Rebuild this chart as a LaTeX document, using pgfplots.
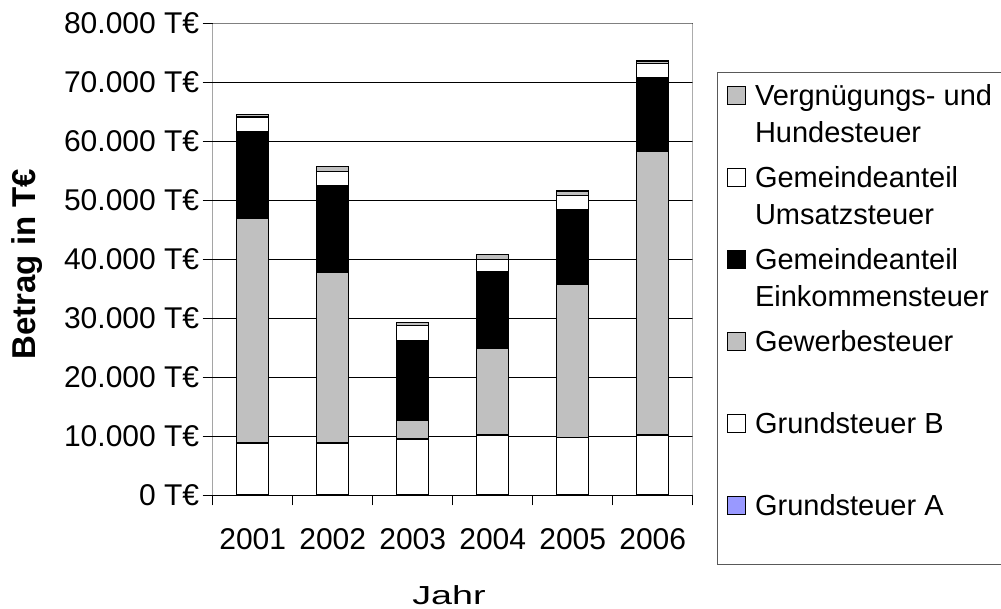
\documentclass[border=0pt]{standalone}
\usepackage{fontspec}
\setmainfont{Liberation Sans}
\usepackage{graphicx}
\usepackage{pgfplots}
\pgfplotsset{compat=1.18}
\definecolor{silver}{RGB}{192,192,192}
\definecolor{gablue}{RGB}{153,153,255}
\newcommand{\lf}{\fontsize{29}{36.7}\selectfont}
\pgfplotsset{
  legsq/.style n args={2}{legend image code/.code={%
    \draw[##1,line width=1.2pt] (0pt,1pt) rectangle (18pt,19pt);
    \node[anchor=base west, inner sep=0pt, draw=none, fill=none, text=black, font=\lf] at (27pt,0pt) {#1};
    \node[anchor=base west, inner sep=0pt, draw=none, fill=none, text=black, font=\lf] at (27pt,-36.7pt) {#2};
    \path[draw=none,fill=none] (-0.6pt,-48.7pt) rectangle (262pt,33.3pt);}},
  mybar/.style={draw=black, line width=1.5pt}
}
\begin{document}
\begin{tikzpicture}
\path[use as bounding box] (0,0) rectangle (1001pt,608pt);
\begin{axis}[
  at={(212.7pt,112.7pt)}, anchor=south west,
  width=480pt, height=472pt, scale only axis,
  xmin=-0.5, xmax=5.5, ymin=0, ymax=80000,
  ybar stacked, bar width=32pt,
  xtick={-0.5,0.5,1.5,2.5,3.5,4.5,5.5},
  xticklabels={2001,2002,2003,2004,2005,2006},
  x tick label as interval,
  ytick={0,10000,20000,30000,40000,50000,60000,70000,80000},
  yticklabels={0 T€,10.000 T€,20.000 T€,30.000 T€,40.000 T€,50.000 T€,60.000 T€,70.000 T€,80.000 T€},
  scaled y ticks=false,
  xtick pos=bottom, ytick pos=left, tick align=outside,
  major tick length=10pt,
  tick style={black, line width=1.2pt},
  axis line style={draw=none},
  ymajorgrids, major grid style={black, line width=1pt},
  tick label style={font=\fontsize{30}{34}\selectfont},
  xticklabel style={anchor=north, yshift=-19.4pt},
  xlabel={\scalebox{1.3}[0.9]{Jahr}},
  ylabel={Betrag in T€},
  every axis x label/.style={at={(axis description cs:0.4923,-0.2314)}, anchor=base, inner sep=0pt, font=\fontsize{29}{34}\selectfont},
  every axis y label/.style={at={(axis description cs:-0.369,0.49)}, rotate=90, anchor=base, inner sep=0pt, font=\fontsize{33}{38}\selectfont\bfseries},
  legend style={at={(axis description cs:1.05,0.8975)}, anchor=north west,
    draw=black!65, line width=1.2pt, inner xsep=9.4pt, inner ysep=0pt,
    row sep=0pt, column sep=0pt, nodes={inner sep=0pt}},
  legend cell align=left,
  reverse legend,
]
\addplot[fill=gablue, mybar, legsq={Grundsteuer A}{}] coordinates {(0,150) (1,150) (2,150) (3,150) (4,150) (5,150)};
\addlegendentry{\mbox{}}
\addplot[fill=white, mybar, legsq={Grundsteuer B}{}] coordinates {(0,8680) (1,8680) (2,9360) (3,10040) (4,9630) (5,10040)};
\addlegendentry{\mbox{}}
\addplot[fill=silver, mybar, legsq={Gewerbesteuer}{}] coordinates {(0,38200) (1,29030) (2,3220) (3,14770) (4,26040) (5,48040)};
\addlegendentry{\mbox{}}
\addplot[fill=black, mybar, legsq={Gemeindeanteil}{Einkommensteuer}] coordinates {(0,14530) (1,14530) (2,13470) (3,12900) (4,12500) (5,12500)};
\addlegendentry{\mbox{}}
\addplot[fill=white, mybar, legsq={Gemeindeanteil}{Umsatzsteuer}] coordinates {(0,2550) (1,2500) (2,2600) (3,2090) (4,2490) (5,2490)};
\addlegendentry{\mbox{}}
\addplot[fill=silver, mybar, legsq={Vergnügungs- und}{Hundesteuer}] coordinates {(0,460) (1,800) (2,450) (3,850) (4,800) (5,400)};
\addlegendentry{\mbox{}}
\draw[black!50, line width=1.5pt] (rel axis cs:0,1) -- (rel axis cs:1,1) -- (rel axis cs:1,0);
\draw[black, line width=1.5pt] (rel axis cs:1,0) -- (rel axis cs:0,0) -- (rel axis cs:0,1);
\end{axis}
\end{tikzpicture}
\end{document}
